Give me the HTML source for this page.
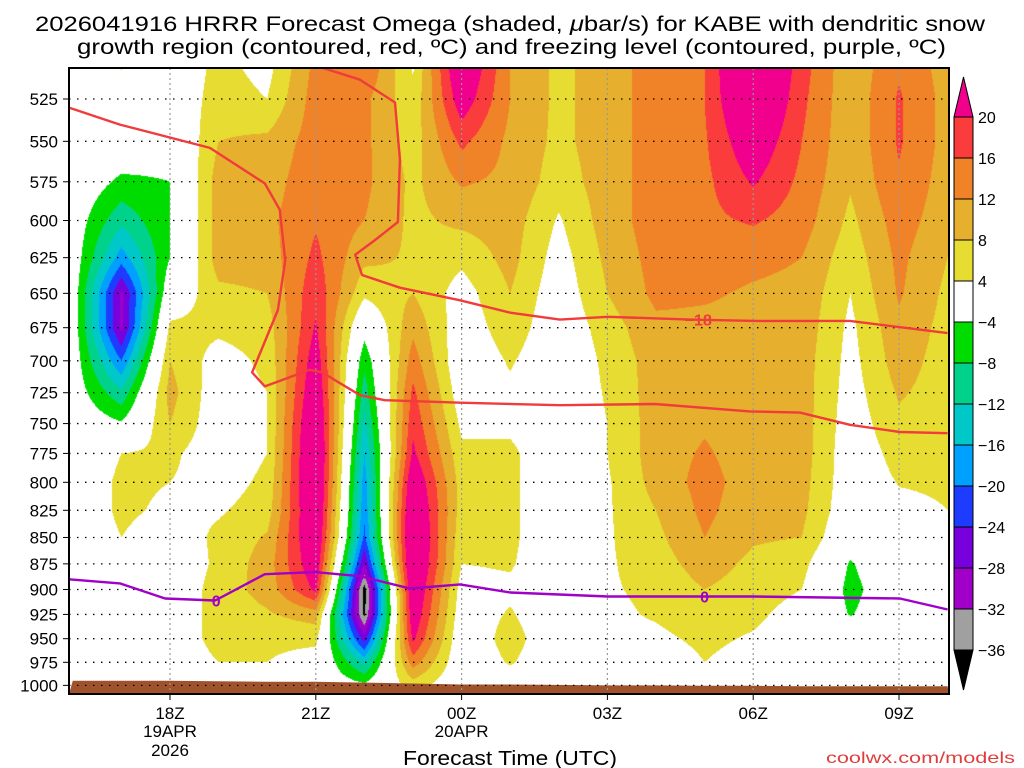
<!DOCTYPE html>
<html><head><meta charset="utf-8"><style>
html,body{margin:0;padding:0;background:#fff;width:1024px;height:768px;overflow:hidden}
#field{position:absolute;left:69px;top:68px}
#ov{position:absolute;left:0;top:0}
text{font-family:"Liberation Sans","DejaVu Sans",sans-serif;fill:#000}
</style></head><body>
<canvas id="field" width="880" height="626"></canvas>
<svg id="ov" width="1024" height="768">
<text x="35" y="31" font-size="21" textLength="950" lengthAdjust="spacingAndGlyphs">2026041916 HRRR Forecast Omega (shaded, <tspan font-style="italic">μ</tspan>bar/s) for KABE with dendritic snow</text>
<text x="77" y="54" font-size="21" textLength="869" lengthAdjust="spacingAndGlyphs">growth region (contoured, red, ºC) and freezing level (contoured, purple, ºC)</text>
<g id="terrain"></g><g id="grid"></g><g id="lines"></g><g id="axes"></g><g id="cbar"></g>
<rect x="69" y="68" width="880" height="626" fill="none" stroke="#000" stroke-width="2"/>
<text x="510" y="765" font-size="20" text-anchor="middle" textLength="214" lengthAdjust="spacingAndGlyphs">Forecast Time (UTC)</text>
<text x="1015" y="763" font-size="16" text-anchor="end" style="fill:#e03c3c" textLength="189" lengthAdjust="spacingAndGlyphs">coolwx.com/models</text>
</svg>
<script>
// ---- data ----
const hours = [-2,-1,0,1,2,3,4,5,6,7,8,9,10,11,12,13,14,15,16];
const levels = [500,525,550,575,600,625,650,675,700,725,750,775,800,825,850,875,900,925,950,975,1000];
// omega per hour column, values at levels 500..1000
const omega = [
[0,0,0,0,-1,-1,-1,-1,-1,-1,0,0,0,0,0,0,0,0,0,0,0],
[6,0,0,-5,-11,-18,-29,-29,-20,-11,-3.5,4,5,5,4,0,0,0,0,0,0],
[0,0,-2,-4,-4,-4,0,5,8,9.5,8,5,4,3,1,0,0,0,0,0,0],
[5,6,8,10,10,10,7,5,2,1,1,1,2,3.5,5,5,6,6,6,4,1],
[2,4,9,10,11,10,8,6,5,4,4,4,5,6,8.5,10,9.5,7.5,5,4,2],
[13,14,14,15,15.5,17,19,20.5,23,25,27,28,28,27,26,24,21,10,5,2,0],
[17,13,13,13,12,9,5,-2,-7,-10,-13,-16,-18,-19,-21,-28,-38,-37,-26,-13,-3],
[3,5,6,7,7,7.5,8,11,14,17,19,21,25,27,28,28,26,24,21,14,6],
[27,23,17,12.5,9,5,2,1,0,1,3,5,6,6,5,4,2,1,0,0,0],
[12,12,11,11,10,9.5,8,6.5,4.5,3,3,5,5,5,5,4.5,3,4.5,6,4.5,1],
[7,7,7,6,3.5,2,1,0.5,0,0,0,0,0,0,0,0,0,0,0,0,0],
[10,10,10,10,10,9,8,6,5,4.5,4,4,3.5,3.5,3.5,3.5,3.5,3,2,1,0],
[14,14,14,14,14,13.5,13,11,10,10,10,10,9.5,8,7,6,5,4.5,3,1,0],
[16,16,15.5,15,15,14,12.5,11,10.5,11,11.5,12.5,13.5,13,12,10,8,6.5,5,4,1],
[30,28,24,20.5,16.5,13,11.5,11,10.5,10.5,10,10,10,9.5,8.5,7,6,5,3.5,2,0],
[18,17,16,15,14,12,11,10.5,10,10,10,10,9.5,9,8,5.5,4,2,1,0,0],
[9,9,9,8.5,7,5.5,4,3,2.5,2,1.5,1,1,0.5,-1,-4.5,-5.5,-4.3,0,0,0],
[15,16.5,16.5,15.5,14,13,12.5,11,10,8.5,7,5.5,4.2,3,2,1,0,0,0,0,0],
[10,10.5,10.5,10,9.5,8,7,6.5,6,6,5.5,5,4.5,4,2,1,0,0,0,0,0]
];
const surfPress = [995,995,995,995.5,996,996,997,998,999,999,999.5,1000,1000,1000.5,1000.5,1001,1001,1001,1001];
const dgzWarmT = [-2.1,-1.03,0.82,1.95,2.26,2.37,2.22,1.69,1.95,2.88,3.13,3.91,4.42,5.97,8.02,9.98,11.93,12.96,13.99,15.02,16.0];
const dgzWarmP = [530,540,554,576,593,627,662,709,720,707,709,727,731,733,735,734,740,741,751,757,758];
const dgzColdT = [3.15,3.91,4.63,4.73,4.69,4.22,3.81,3.95,4.73,5.97,7.0,8.02,9.01,10.7,12.06,13.99,16.0];
const dgzColdP = [507,514,527,561,601,613,623,637,646,655,664,669,667,669,670,670,679];
const frzT = [-2.1,-1.03,-0.1,0.93,1.95,2.98,3.91,4.94,5.97,7.0,9.01,11.0,12.0,15.02,16.0];
const frzP = [890,894,909,911,885,883,887,899,895,903,907,907,907,909,920];
const tickHours = [0,3,6,9,12,15];
const tickLine1 = ["18Z","21Z","00Z","03Z","06Z","09Z"];
const tickLine2 = ["19APR","","20APR","","",""];
const tickLine3 = ["2026","","","","",""];
const yTicks = [525,550,575,600,625,650,675,700,725,750,775,800,825,850,875,900,925,950,975,1000];
const cLevels = [-36,-32,-28,-24,-20,-16,-12,-8,-4,4,8,12,16,20];
const cColors = ["#000000","#a0a0a0","#a000c8","#7800dc","#1e3cff","#00a0ff","#00c8c8","#00d28c","#00dc00","#ffffff","#e6dc32","#e6af2d","#f08228","#fa3c3c","#f0008c"];

// ---- axes ----
const PL=69,PR=949,PT=68,PB=694;
function xOf(t){return 170+48.6*t;}
function yOf(p){return 99+910*Math.log(p/525);}
function tOf(x){return (x-170)/48.6;}
function pOf(y){return 525*Math.exp((y-99)/910);}
const NS="http://www.w3.org/2000/svg";
function mk(tag,attrs,parent){const e=document.createElementNS(NS,tag);for(const k in attrs)e.setAttribute(k,attrs[k]);parent.appendChild(e);return e;}

// ---- field ----
function hexToRgb(h){return [parseInt(h.substr(1,2),16),parseInt(h.substr(3,2),16),parseInt(h.substr(5,2),16)];}
const rgb=cColors.map(hexToRgb);
function colorIdx(v){let i=0;while(i<cLevels.length&&v>=cLevels[i])i++;return i;}
function val(t,p){
  let fi=t-hours[0];fi=Math.max(0,Math.min(hours.length-1.0001,fi));
  let fj=(p-levels[0])/25;fj=Math.max(0,Math.min(levels.length-1.0001,fj));
  const i=Math.floor(fi),j=Math.floor(fj),a=fi-i,b=fj-j;
  return omega[i][j]*(1-a)*(1-b)+omega[i+1][j]*a*(1-b)+omega[i][j+1]*(1-a)*b+omega[i+1][j+1]*a*b;
}
(function(){
  const c=document.getElementById('field'),ctx=c.getContext('2d');
  const W=c.width,H=c.height,img=ctx.createImageData(W,H),d=img.data;
  for(let py=0;py<H;py++){const p=pOf(PT+py+0.5);
    for(let px=0;px<W;px++){const t=tOf(PL+px+0.5);const col=rgb[colorIdx(val(t,p))];const k=(py*W+px)*4;
      d[k]=col[0];d[k+1]=col[1];d[k+2]=col[2];d[k+3]=255;}}
  ctx.putImageData(img,0,0);
})();

// terrain
(function(){
  const g=document.getElementById('terrain');
  let pts=[];
  pts.push(PL+","+PB);
  hours.forEach((h,i)=>{pts.push(Math.max(PL,Math.min(PR,xOf(h)))+","+yOf(surfPress[i]).toFixed(1));});
  pts.push(PR+","+PB);
  const e=mk('polygon',{points:pts.join(' '),fill:'#a0522d'},g);
  
  
})();

// grid + axes
(function(){
  const g=document.getElementById('grid'),a=document.getElementById('axes');
  yTicks.forEach(p=>{const y=yOf(p);
    const l=mk('line',{x1:PL,x2:PR,y1:y,y2:y,stroke:'#000','stroke-width':1.3,'stroke-dasharray':'1.5 6.5'},g);
    
    
    const tk=mk('line',{x1:PL-6,x2:PL,y1:y,y2:y,stroke:'#000','stroke-width':1},a);
    
    
    const tx=mk('text',{x:58,y:y+6,'font-size':17,'text-anchor':'end'},a);tx.textContent=String(p);
    
    
  });
  tickHours.forEach((h,i)=>{const x=xOf(h);
    const l=mk('line',{x1:x,x2:x,y1:PT,y2:PB,stroke:'#999','stroke-width':1.2,'stroke-dasharray':'2 3'},g);
    
    
    const tk=mk('line',{x1:x,x2:x,y1:PB,y2:PB+6,stroke:'#000','stroke-width':1},a);
    
    
    [[tickLine1[i],719],[tickLine2[i],737],[tickLine3[i],756]].forEach(([s,y])=>{if(!s)return;
      const tx=mk('text',{x:x,y:y,'font-size':17,'text-anchor':'middle'},a);tx.textContent=s;
      
      });
  });
})();

// contour lines
(function(){
  const g=document.getElementById('lines');
  function poly(T,P,color,name){
    const d=T.map((t,i)=>(i?'L':'M')+Math.max(PL,Math.min(PR,xOf(t))).toFixed(1)+','+Math.max(PT,yOf(P[i])).toFixed(1)).join(' ');
    const e=mk('path',{d:d,fill:'none',stroke:color,'stroke-width':2.4,'stroke-linejoin':'round'},g);
    
    
  }
  poly(dgzWarmT,dgzWarmP,'#f03c3c','dgz-minus12-contour');
  poly(dgzColdT,dgzColdP,'#f03c3c','dgz-minus18-contour');
  poly(frzT,frzP,'#a000c8','freezing-level-contour');
  const l1=mk('text',{x:xOf(10.87),y:yOf(669)+6,'font-size':16,'font-weight':'bold','text-anchor':'middle',style:'fill:#f03c3c'},g);l1.textContent='−18';
  
  
  [[0.95,911],[11.0,907]].forEach(([t,p])=>{
    const e=mk('text',{x:xOf(t),y:yOf(p)+6,'font-size':16,'font-weight':'bold','text-anchor':'middle',style:'fill:#a000c8'},g);e.textContent='0';
    
    
  });
})();

// colorbar
(function(){
  const g=document.getElementById('cbar');const x0=954,x1=973;
  function yc(i){return 650-i*41;}
  for(let i=1;i<cLevels.length;i++){
    const r=mk('rect',{x:x0,y:yc(i),width:x1-x0,height:41,fill:cColors[i],stroke:'#000','stroke-width':1},g);
    
    
  }
  const top=mk('polygon',{points:`${x0},${yc(13)} ${x1},${yc(13)} ${(x0+x1)/2},77`,fill:cColors[14],stroke:'#000','stroke-width':1},g);
  
  
  const bot=mk('polygon',{points:`${x0},${yc(0)} ${x1},${yc(0)} ${(x0+x1)/2},690`,fill:cColors[0],stroke:'#000','stroke-width':1},g);
  
  
  cLevels.forEach((v,i)=>{
    const t=mk('text',{x:978,y:yc(i)+6,'font-size':16},g);t.textContent=(v<0?'−':'')+Math.abs(v);
    
    
  });
})();
</script>
</body></html>
